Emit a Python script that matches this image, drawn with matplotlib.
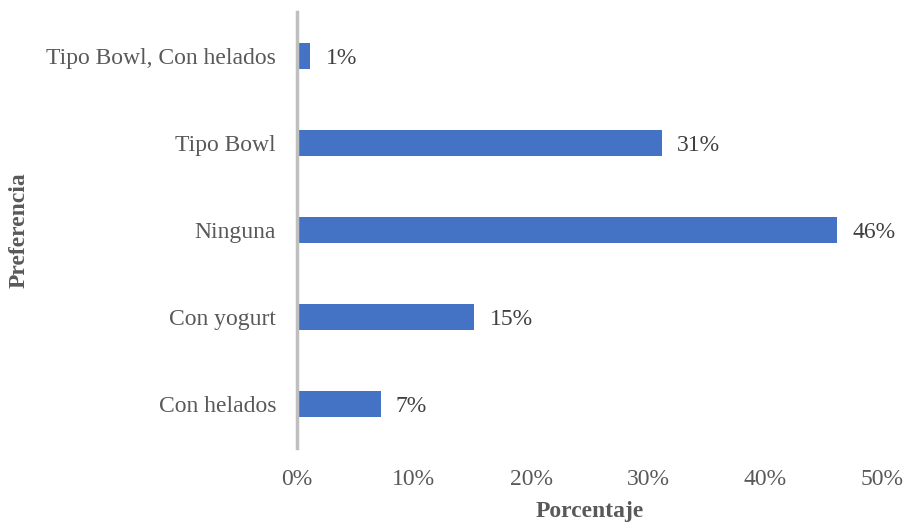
import matplotlib.pyplot as plt
from matplotlib.ticker import FuncFormatter

plt.rcParams['font.family'] = ['Liberation Serif', 'DejaVu Serif']

categorias = ['Con helados', 'Con yogurt', 'Ninguna', 'Tipo Bowl', 'Tipo Bowl, Con helados']
porcentajes = [7, 15, 46, 31, 1]
ticks_x = [0, 10, 20, 30, 40, 50]

fig = plt.figure(figsize=(9.05, 5.25), dpi=100)
ax = fig.add_axes([0.328, 0.147, 0.647, 0.830])

pos = range(len(categorias))
barras = ax.barh(pos, porcentajes, height=0.3, color='#4472C4', left=0.15)

# etiquetas de valor a la derecha de cada barra
for b, v in zip(barras, porcentajes):
    ax.text(b.get_x() + b.get_width() + 1.3, b.get_y() + b.get_height() / 2 - 0.03, f'{v}%',
            va='center', ha='left', fontsize=17, color='#404040')

ax.set_yticks(list(pos))
ax.set_yticklabels(categorias)
ax.set_ylim(-0.5, len(categorias) - 0.5)
ax.set_xlim(0, 50)
ax.set_xticks(ticks_x)
ax.xaxis.set_major_formatter(FuncFormatter(lambda v, _: f'{v:.0f}%'))

ax.tick_params(axis='both', length=0, labelsize=17, colors='#595959')
ax.tick_params(axis='y', pad=15)
ax.tick_params(axis='x', pad=15)

for s in ['top', 'right', 'bottom']:
    ax.spines[s].set_visible(False)
ax.spines['left'].set_color('#BFBFBF')
ax.spines['left'].set_linewidth(2.5)

ax.set_xlabel('Porcentaje', fontsize=17, fontweight='bold', color='#595959')
ax.xaxis.set_label_coords(0.5, -0.122)
ax.set_ylabel('Preferencia', fontsize=17, fontweight='bold', color='#595959')
ax.yaxis.set_label_coords(-0.456, 0.5)

fig.savefig('out.png', dpi=100)
